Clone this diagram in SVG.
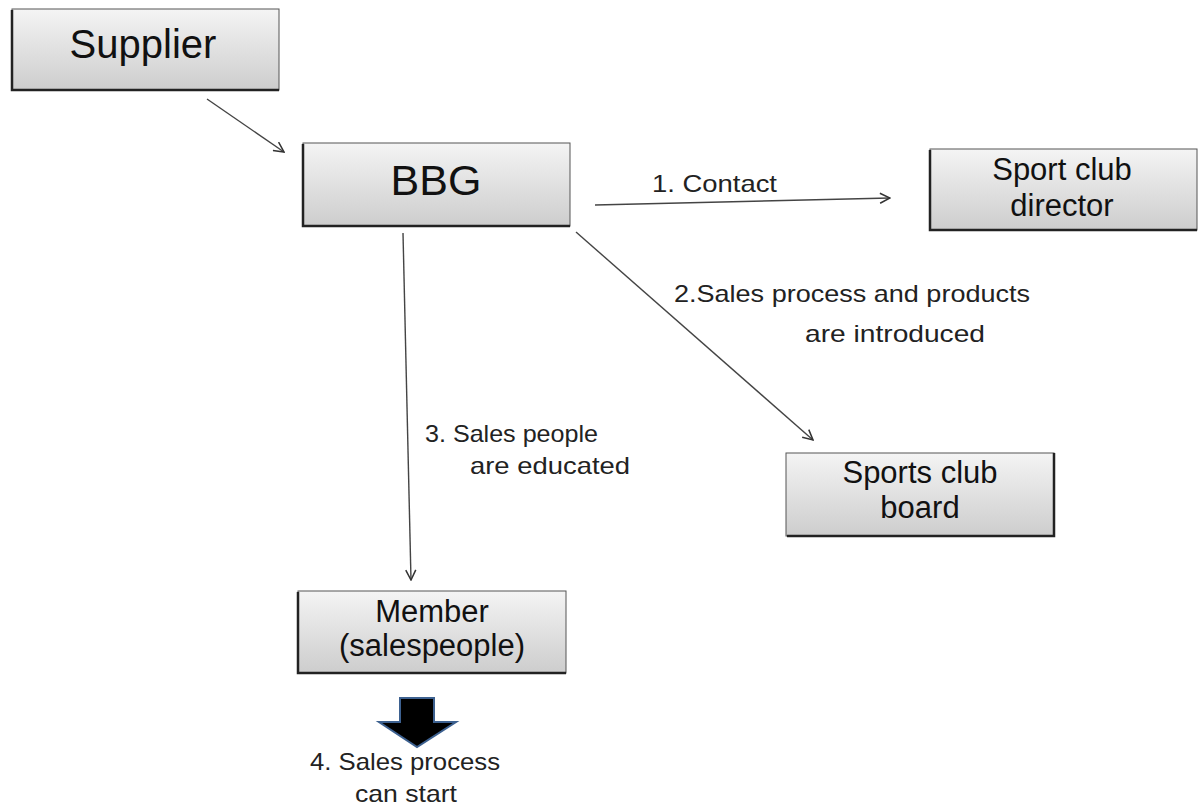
<svg xmlns="http://www.w3.org/2000/svg" width="1201" height="809" viewBox="0 0 1201 809">
<defs>
<linearGradient id="g" x1="0" y1="0" x2="0" y2="1">
<stop offset="0" stop-color="#f4f4f4"/>
<stop offset="1" stop-color="#cdcdcd"/>
</linearGradient>
<marker id="ah" viewBox="0 0 12 12" refX="11" refY="6" markerWidth="12" markerHeight="12" markerUnits="userSpaceOnUse" orient="auto">
<path d="M1,1 L11,6 L1,11" fill="none" stroke="#333" stroke-width="1.5"/>
</marker>
</defs>
<style>
.box{fill:url(#g);stroke:#555;stroke-width:1}
.sh{fill:none;stroke:#222;stroke-width:2.5}
.t{font-family:"Liberation Sans",Arial,sans-serif;fill:#111;text-anchor:middle}
.lbl{font-family:"Liberation Sans",Arial,sans-serif;fill:#222;font-size:24px}
.c{fill:none;stroke:#444;stroke-width:1.4;marker-end:url(#ah)}
</style>
<rect width="1201" height="809" fill="#fff"/>
<g id="supplier">
<rect class="box" x="12" y="9" width="267" height="81"/>
<path class="sh" d="M12,10 V90 H279"/>
<text class="t" x="143" y="58" font-size="40">Supplier</text>
</g>
<g id="bbg">
<rect class="box" x="303" y="143" width="267" height="83"/>
<path class="sh" d="M303,144 V226 H570"/>
<text class="t" x="436" y="195" font-size="43">BBG</text>
</g>
<g id="director">
<rect class="box" x="930" y="149" width="267" height="81"/>
<path class="sh" d="M930,150 V230 H1197"/>
<text class="t" x="1062" y="180" font-size="31">Sport club</text>
<text class="t" x="1062" y="216" font-size="31">director</text>
</g>
<g id="board">
<rect class="box" x="786" y="453" width="268" height="83"/>
<path class="sh" d="M787,536 H1054 V453"/>
<text class="t" x="920" y="483" font-size="31">Sports club</text>
<text class="t" x="920" y="518" font-size="31">board</text>
</g>
<g id="member">
<rect class="box" x="298" y="591" width="268" height="82"/>
<path class="sh" d="M298,592 V673 H566"/>
<text class="t" x="432" y="622" font-size="31">Member</text>
<text class="t" x="432" y="656" font-size="31">(salespeople)</text>
</g>
<g id="start">
<polygon points="400,698 434,698 434,722 456,722 417,747 379,722 400,722" fill="#000" stroke="#3d6190" stroke-width="2"/>
<text class="lbl" x="405" y="770" text-anchor="middle" textLength="190" lengthAdjust="spacingAndGlyphs">4. Sales process</text>
<text class="lbl" x="406" y="802" text-anchor="middle" textLength="102" lengthAdjust="spacingAndGlyphs">can start</text>
</g>
<g id="connectors">
<line class="c" x1="207" y1="99" x2="284" y2="152"/>
<line class="c" x1="595" y1="205" x2="890" y2="198"/>
<line class="c" x1="576" y1="232" x2="813" y2="440"/>
<line class="c" x1="403" y1="233" x2="411" y2="580"/>
</g>
<g id="labels">
<text class="lbl" x="652" y="192" textLength="125" lengthAdjust="spacingAndGlyphs">1. Contact</text>
<text class="lbl" x="674" y="302" textLength="356" lengthAdjust="spacingAndGlyphs">2.Sales process and products</text>
<text class="lbl" x="805" y="342" textLength="180" lengthAdjust="spacingAndGlyphs">are introduced</text>
<text class="lbl" x="425" y="442" textLength="173" lengthAdjust="spacingAndGlyphs">3. Sales people</text>
<text class="lbl" x="470" y="474" textLength="160" lengthAdjust="spacingAndGlyphs">are educated</text>
</g>
</svg>
